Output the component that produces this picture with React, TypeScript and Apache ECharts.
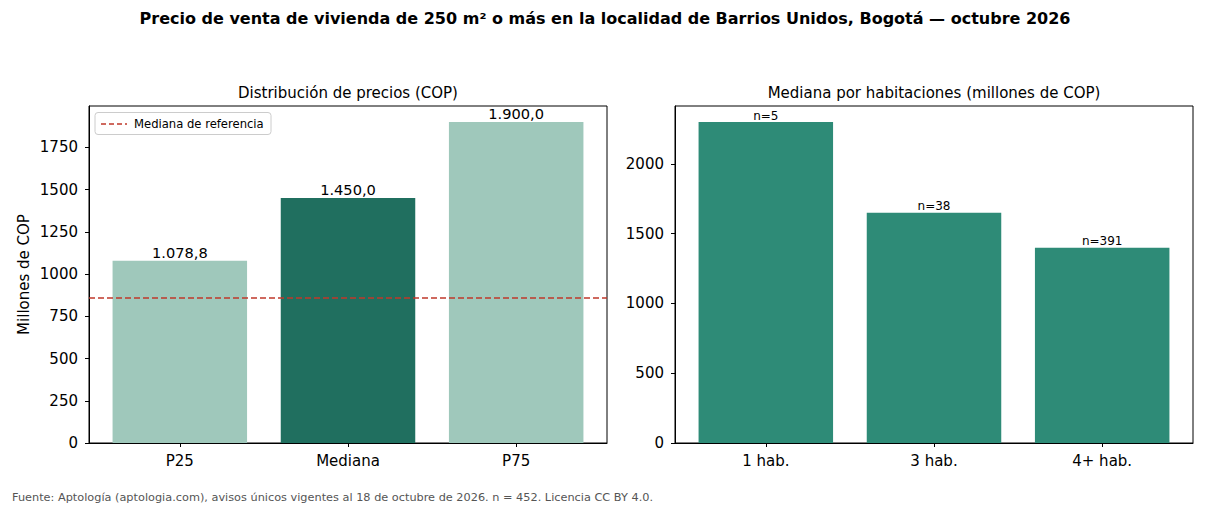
import React, { useEffect, useRef } from "react";
import * as echarts from "echarts";

const distCategories = ["P25", "Mediana", "P75"];
const distValues = [1078.8, 1450.0, 1900.0];
const referenceMedian = 860;
const distTicks = [0, 250, 500, 750, 1000, 1250, 1500, 1750];

const roomCategories = ["1 hab.", "3 hab.", "4+ hab."];
const roomValues = [2300, 1650, 1400];
const roomCounts = [5, 38, 391];
const roomTicks = [0, 500, 1000, 1500, 2000];

const FONT = "DejaVu Sans";

function fmtEs(v: number): string {
  const [i, d] = v.toFixed(1).split(".");
  const withSep = i.replace(/\B(?=(\d{3})+(?!\d))/g, ".");
  return withSep + "," + d;
}

export default function App() {
  const ref = useRef<HTMLDivElement>(null);
  useEffect(() => {
    if (!ref.current) return;
    const chart = echarts.init(ref.current, null, { renderer: "svg" });
    const axisLabel = { color: "#000", fontSize: 15, fontFamily: FONT };
    const catIdx = [0, 1, 2];
    const xAxisFor = (gridIndex: number, cats: string[]) => ({
      type: "value",
      gridIndex,
      min: -0.54,
      max: 2.54,
      splitLine: { show: false },
      axisLine: { show: true, onZero: false, lineStyle: { color: "#000" } },
      axisTick: { show: true, length: 4, lineStyle: { color: "#000" }, customValues: catIdx },
      axisLabel: {
        ...axisLabel,
        margin: 10,
        customValues: catIdx,
        formatter: (v: number) => cats[Math.round(v)] ?? "",
      },
    });
    const yAxisFor = (gridIndex: number, max: number, ticks: number[], extra: any = {}) => ({
      type: "value",
      gridIndex,
      min: 0,
      max,
      position: "left",
      splitLine: { show: false },
      axisLine: { show: true, onZero: false, lineStyle: { color: "#000" } },
      axisTick: { show: true, length: 4, lineStyle: { color: "#000" }, customValues: ticks },
      axisLabel: { ...axisLabel, margin: 11, customValues: ticks, formatter: (v: number) => String(v) },
      ...extra,
    });
    chart.setOption({
      animation: false,
      backgroundColor: "#fff",
      textStyle: { fontFamily: FONT },
      title: [
        {
          text: "Precio de venta de vivienda de 250 m² o más en la localidad de Barrios Unidos, Bogotá — octubre 2026",
          left: 605,
          textAlign: "center",
          top: 10,
          padding: 0,
          textStyle: { fontSize: 16, fontWeight: "bold", color: "#000", fontFamily: FONT },
        },
        {
          text: "Distribución de precios (COP)",
          left: 348,
          textAlign: "center",
          top: 85,
          padding: 0,
          textStyle: { fontSize: 15, fontWeight: "normal", color: "#000", fontFamily: FONT },
        },
        {
          text: "Mediana por habitaciones (millones de COP)",
          left: 934,
          textAlign: "center",
          top: 85,
          padding: 0,
          textStyle: { fontSize: 15, fontWeight: "normal", color: "#000", fontFamily: FONT },
        },
        {
          text: "Fuente: Aptología (aptologia.com), avisos únicos vigentes al 18 de octubre de 2026. n = 452. Licencia CC BY 4.0.",
          left: 12,
          top: 491.5,
          padding: 0,
          textStyle: { fontSize: 11.3, fontWeight: "normal", color: "#555", fontFamily: FONT },
        },
      ],
      grid: [
        { left: 89, top: 106, width: 518, height: 337, show: true, borderColor: "#000", borderWidth: 1, backgroundColor: "transparent" },
        { left: 675, top: 106, width: 518, height: 337, show: true, borderColor: "#000", borderWidth: 1, backgroundColor: "transparent" },
      ],
      xAxis: [xAxisFor(0, distCategories), xAxisFor(1, roomCategories)],
      yAxis: [
        yAxisFor(0, 1995, distTicks, {
          name: "Millones de COP",
          nameLocation: "middle",
          nameGap: 58,
          nameTextStyle: { fontSize: 15, color: "#000", fontFamily: FONT },
        }),
        yAxisFor(1, 2415, roomTicks),
      ],
      series: [
        {
          type: "bar",
          xAxisIndex: 0,
          yAxisIndex: 0,
          barWidth: 134.5,
          data: distValues.map((v, i) => ({
            value: [i, v],
            itemStyle: { color: i === 1 ? "#206f5f" : "#9fc8bb" },
          })),
          label: {
            show: true,
            position: "top",
            distance: 1,
            fontSize: 14.6,
            color: "#000",
            fontFamily: FONT,
            formatter: (p: any) => fmtEs(p.value[1]),
          },
          markLine: {
            silent: true,
            symbol: "none",
            label: { show: false },
            lineStyle: { color: "#c0392b", type: [6, 3], width: 1.5 },
            data: [{ yAxis: referenceMedian }],
          },
        },
        {
          type: "bar",
          xAxisIndex: 1,
          yAxisIndex: 1,
          barWidth: 134.5,
          itemStyle: { color: "#2e8b77" },
          data: roomValues.map((v, i) => [i, v]),
          label: {
            show: true,
            position: "top",
            distance: 0.5,
            fontSize: 12,
            color: "#000",
            fontFamily: FONT,
            formatter: (p: any) => "n=" + roomCounts[p.dataIndex],
          },
        },
      ],
      graphic: [
        {
          type: "rect",
          shape: { x: 95, y: 112.5, width: 176, height: 22, r: 3 },
          style: { fill: "rgba(255,255,255,0.8)", stroke: "#ccc", lineWidth: 1 },
          z: 100,
        },
        {
          type: "line",
          shape: { x1: 101, y1: 124, x2: 127, y2: 124 },
          style: { stroke: "#c0392b", lineWidth: 1.5, lineDash: [5, 3] },
          z: 101,
        },
        {
          type: "text",
          x: 134,
          y: 124,
          style: { text: "Mediana de referencia", fontSize: 11.6, fill: "#000", fontFamily: FONT, verticalAlign: "middle" },
          z: 101,
        },
      ],
    });
    return () => chart.dispose();
  }, []);
  return <div ref={ref} style={{ position: "fixed", left: 0, top: 0, width: 1210, height: 506 }} />;
}
